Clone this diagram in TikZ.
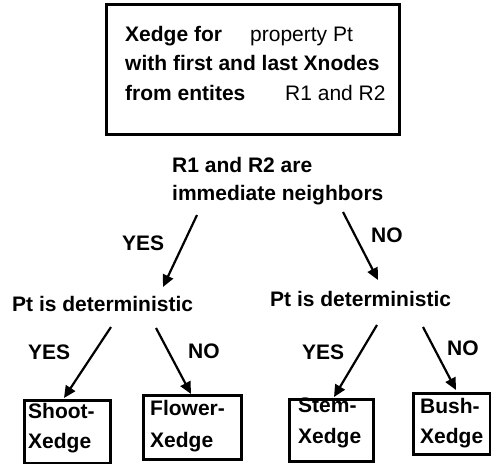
\documentclass[tikz,border=0pt]{standalone}
\usepackage{fontspec}
\setmainfont{Liberation Sans}
\usetikzlibrary{arrows.meta}

\begin{document}
\begin{tikzpicture}[x=1pt, y=-1pt,
  txt/.style={anchor=base west, inner sep=0pt, font=\fontsize{21}{24}\selectfont\bfseries},
  plain/.style={anchor=base west, inner sep=0pt, font=\fontsize{21}{24}\selectfont},
  frame/.style={draw, line width=2.5pt, anchor=north west, inner sep=0pt},
  arr/.style={line width=2.2pt, -{Triangle[length=12pt, width=11pt]}}
]
\useasboundingbox (0,0) rectangle (491,464);
\fill[white] (0,0) rectangle (491,464);

% heading box
\node[frame, minimum width=293pt, minimum height=130pt] (head) at (105,3) {};
\node[txt]   (h1a) at (125,41)    {Xedge for};
\node[plain] (h1b) at (250,41)    {property Pt};
\node[txt]   (h2)  at (125,70.5)  {with first and last Xnodes};
\node[txt]   (h3a) at (125,100)   {from entites};
\node[plain] (h3b) at (285,100)   {R1 and R2};

% first question
\node[txt] (q1) at (172,172) {R1 and R2 are};
\node[txt] (q2) at (172,200) {immediate neighbors};

% second questions
\node[txt] (detL) at (12,311)  {Pt is deterministic};
\node[txt] (detR) at (270,306) {Pt is deterministic};

% branch labels
\node[txt] (yes0) at (122,250) {YES};
\node[txt] (no0)  at (371,242) {NO};
\node[txt] (yes1) at (28,359)  {YES};
\node[txt] (no1)  at (188,358) {NO};
\node[txt] (yes2) at (302,359) {YES};
\node[txt] (no2)  at (447,355) {NO};

% result boxes
\node[frame, minimum width=86pt, minimum height=63pt] (shoot)  at (23,399)  {};
\node[frame, minimum width=98pt, minimum height=64pt] (flower) at (142,394) {};
\node[frame, minimum width=84pt, minimum height=62pt] (stem)   at (288,398) {};
\node[frame, minimum width=77pt, minimum height=61pt] (bush)   at (412,392) {};

\node[txt] (shoot1)  at (28,418)  {Shoot-};
\node[txt] (shoot2)  at (28,448)  {Xedge};
\node[txt] (flower1) at (150,415) {Flower-};
\node[txt] (flower2) at (150,447) {Xedge};
\node[txt] (stem1)   at (298,412) {Stem-};
\node[txt] (stem2)   at (298,443) {Xedge};
\node[txt] (bush1)   at (420,413) {Bush-};
\node[txt] (bush2)   at (420,443) {Xedge};

% connector ends
\coordinate (qY)  at (197,215);
\coordinate (qN)  at (343,212);
\coordinate (dLin) at (163,287);
\coordinate (dRin) at (378,280);
\coordinate (dLY) at (111,327);
\coordinate (dLN) at (156,328);
\coordinate (dRY) at (377,325);
\coordinate (dRN) at (423,327);
\coordinate (shootIn)  at (64,398);
\coordinate (flowerIn) at (191,394);
\coordinate (stemIn)   at (334,397);
\coordinate (bushIn)   at (456,390);

\draw[arr] (qY) -- (dLin);
\draw[arr] (qN) -- (dRin);
\draw[arr] (dLY) -- (shootIn);
\draw[arr] (dLN) -- (flowerIn);
\draw[arr] (dRY) -- (stemIn);
\draw[arr] (dRN) -- (bushIn);
\end{tikzpicture}
\end{document}
